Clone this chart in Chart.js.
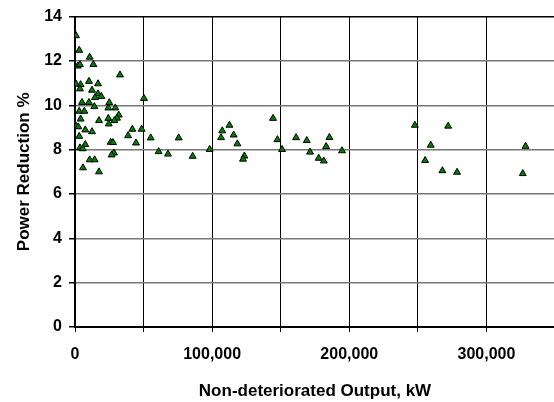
<!DOCTYPE html>
<html>
<head>
<meta charset="utf-8">
<script src="https://cdn.jsdelivr.net/npm/chart.js@4/dist/chart.umd.min.js"></script>
<style>
  html, body { margin: 0; padding: 0; background: #fff; overflow: hidden; }
</style>
</head>
<body>
<canvas id="powerChart" width="560" height="402"></canvas>
<script>
// Non-deteriorated output (kW) and power reduction (%)
const outputKW = [
    730, 3100, 10700, 2000, 3600, 13400, 32800, 730, 4100, 10200,
    16800, 3600, 12400, 16800, 14600, 19200, 50300, 5100, 10200, 14100,
    25000, 3100, 6800, 24300, 29400, 31900, 4100, 24300, 30600, 17500,
    28700, 730, 2400, 24600, 7500, 12400, 41800, 48600, 3100, 38700,
    55200, 75600, 26000, 27700, 44500, 7500, 3600, 5600, 98200, 28400,
    26700, 61000, 67800, 85800, 10700, 14300, 5800, 17500,
    107400, 112600, 106500, 115700, 118400, 123500, 122500, 144400, 147600, 151000,
    161200, 169000, 171400, 185500, 183100, 177700, 181400, 194700,
    247800, 272100, 259400, 255300, 267900, 278600, 328500, 326500
];
const reductionPct = [
    13.14, 12.48, 12.17, 11.77, 11.84, 11.84, 11.37, 10.96, 10.93, 11.08,
    10.97, 10.74, 10.68, 10.52, 10.35, 10.40, 10.31, 10.13, 10.13, 9.94,
    10.12, 9.73, 9.73, 9.88, 9.88, 9.56, 9.38, 9.41, 9.42, 9.31,
    9.31, 9.06, 9.03, 9.16, 8.89, 8.81, 8.92, 8.92, 8.60, 8.63,
    8.53, 8.53, 8.33, 8.32, 8.30, 8.23, 8.08, 8.04, 8.01, 7.85,
    7.76, 7.91, 7.80, 7.70, 7.54, 7.54, 7.18, 7.00,
    8.85, 9.10, 8.54, 8.66, 8.26, 7.71, 7.57, 9.41, 8.45, 8.01,
    8.54, 8.41, 7.89, 8.55, 8.14, 7.61, 7.49, 7.95,
    9.10, 9.06, 8.20, 7.51, 7.05, 6.98, 8.15, 6.92
];

const xMin = 0, xMax = 350000, xStep = 50000;
const yMin = 0, yMax = 14, yStep = 2;

const points = outputKW.map((x, i) => ({ x: x, y: reductionPct[i] }));

const tickFont = { family: "'Liberation Sans', Arial, sans-serif", size: 16, weight: 'bold' };
const titleFont = { family: "'Liberation Sans', Arial, sans-serif", size: 17, weight: 'bold' };

// canvas is a little wider than the window so the 350,000 edge falls just outside it
new Chart(document.getElementById('powerChart'), {
    type: 'scatter',
    data: {
        datasets: [{
            data: points,
            pointStyle: 'triangle',
            pointRadius: 4,
            pointHoverRadius: 4,
            backgroundColor: '#008000',
            borderColor: '#000',
            borderWidth: 1
        }]
    },
    options: {
        responsive: false,
        animation: false,
        events: [],
        layout: { padding: { top: 11, right: 0, left: 0, bottom: 0 } },
        plugins: { legend: { display: false }, tooltip: { enabled: false } },
        scales: {
            x: {
                type: 'linear',
                min: xMin,
                max: xMax,
                afterFit: (scale) => {
                    scale.height = 75;
                    scale.paddingRight = 0;
                    scale.paddingLeft = 0;
                },
                ticks: {
                    stepSize: xStep,
                    autoSkip: false,
                    maxRotation: 0,
                    padding: 13,
                    color: '#000',
                    font: tickFont,
                    callback: (v) => (v % 100000 === 0 && v < xMax) ? v.toLocaleString('en-US') : ''
                },
                grid: { color: '#000', lineWidth: 1, tickLength: 5, tickColor: '#000' },
                border: { color: '#000', width: 2 },
                title: {
                    display: true,
                    text: 'Non-deteriorated Output, kW',
                    color: '#000',
                    font: titleFont,
                    padding: { top: 0, bottom: 0 }
                }
            },
            y: {
                min: yMin,
                max: yMax,
                afterFit: (scale) => { scale.width = 75; },
                ticks: {
                    stepSize: yStep,
                    padding: 7,
                    color: '#000',
                    font: tickFont
                },
                grid: {
                    color: (c) => c.tick && c.tick.value === yMax ? '#000' : '#777',
                    lineWidth: 1.5,
                    tickLength: 6,
                    tickColor: '#000'
                },
                border: { color: '#000', width: 2 },
                title: {
                    display: true,
                    text: 'Power Reduction %',
                    color: '#000',
                    font: titleFont,
                    padding: { top: 14, bottom: 0 }
                }
            }
        }
    }
});
</script>
</body>
</html>
